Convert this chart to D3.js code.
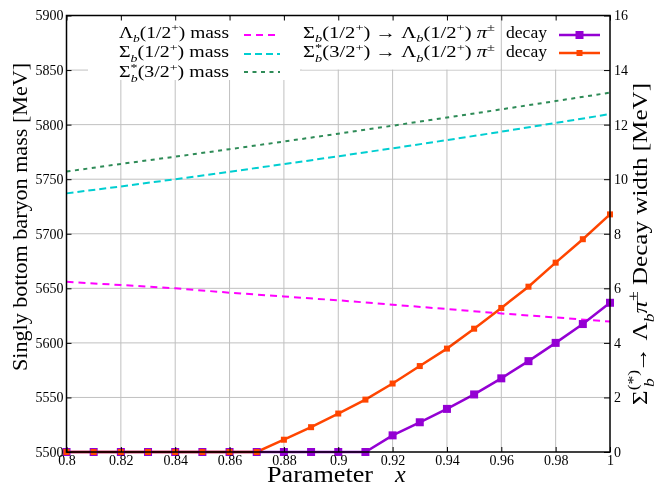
<!DOCTYPE html>
<html><head><meta charset="utf-8">
<script src="https://cdn.jsdelivr.net/npm/d3@7"></script>
<style>
html,body{margin:0;padding:0;background:#fff;}
svg{display:block;font-family:"Liberation Serif","Times New Roman",serif;}
</style></head>
<body><svg id="c" width="657" height="487"></svg>
<script>
// ---------- data ----------
const xParam = [0.80,0.81,0.82,0.83,0.84,0.85,0.86,0.87,0.88,0.89,0.90,0.91,0.92,0.93,0.94,0.95,0.96,0.97,0.98,0.99,1.00];
const sigmaDecay = [0,0,0,0,0,0,0,0,0,0,0,0,0.61,1.09,1.58,2.11,2.70,3.33,4.00,4.69,5.47];
const sigmaStarDecay = [0,0,0,0,0,0,0,0,0.45,0.91,1.41,1.92,2.51,3.15,3.79,4.52,5.28,6.06,6.94,7.80,8.71];
const xMass = [0.80,0.82,0.84,0.86,0.88,0.90,0.92,0.94,0.96,0.98,1.00];
const lambdaMass = [5656,5653,5650,5646,5642.5,5639,5635,5631,5627,5623.3,5619.5];
const sigmaMass = [5737,5743.3,5750,5756.8,5763.8,5771,5778.3,5785.8,5793.5,5801.5,5809.7];
const sigmaStarMass = [5757,5764,5770.6,5777.5,5784.5,5791.7,5799,5806.5,5814,5821.6,5829.3];
const xTicks = [0.80,0.82,0.84,0.86,0.88,0.90,0.92,0.94,0.96,0.98,1.00];
const yLeftTicks = [5500,5550,5600,5650,5700,5750,5800,5850,5900];
const yRightTicks = [0,2,4,6,8,10,12,14,16];

const C = {purple:"#9400d3", orange:"#ff4500", magenta:"#ff00ff", cyan:"#00ced1", green:"#2e8b57", grid:"#c0c0c0"};

const svg = d3.select("#c");
const L = 66.5, R = 610, T = 15.5, B = 452;
const x = d3.scaleLinear([0.8,1],[L,R]);
const yL = d3.scaleLinear([5500,5900],[B,T]);
const yR = d3.scaleLinear([0,16],[B,T]);

// grid
const grid = svg.append("g").attr("stroke",C.grid).attr("stroke-width",1);
grid.selectAll("line.v").data(xTicks.slice(1,-1)).join("line")
  .attr("x1",d=>x(d)).attr("x2",d=>x(d)).attr("y1",T).attr("y2",B);
grid.selectAll("line.h").data(yLeftTicks.slice(1,-1)).join("line")
  .attr("x1",L).attr("x2",R).attr("y1",d=>yL(d)).attr("y2",d=>yL(d));

// legend boxes (opaque)
svg.append("rect").attr("x",88).attr("y",T+1).attr("width",212).attr("height",80-T-1).attr("fill","#fff");
svg.append("rect").attr("x",302).attr("y",T+1).attr("width",R-302-1).attr("height",69.5-T-1).attr("fill","#fff");
svg.append("line").attr("x1",x(0.96)).attr("x2",x(0.96)).attr("y1",T).attr("y2",70).attr("stroke",C.grid);

// mass curves
function massLine(vals,color,dash){
  const pts = xMass.map((d,i)=>[d,vals[i]]);
  svg.append("path").datum(pts)
    .attr("d",d3.line().x(d=>x(d[0])).y(d=>yL(d[1])))
    .attr("fill","none").attr("stroke",color).attr("stroke-width",2).attr("stroke-dasharray",dash);
}
massLine(lambdaMass,C.magenta,"7,5");
massLine(sigmaMass,C.cyan,"7,4");
massLine(sigmaStarMass,C.green,"4,4.5");

// decay curves
function decay(vals,color){
  const pts = xParam.map((d,i)=>[d,vals[i]]);
  svg.append("path").datum(pts)
    .attr("d",d3.line().x(d=>x(d[0])).y(d=>yR(d[1])))
    .attr("fill","none").attr("stroke",color).attr("stroke-width",2.5)
    .style("mix-blend-mode","multiply");
  return pts;
}
const p1 = decay(sigmaDecay,C.purple);
const p2 = decay(sigmaStarDecay,C.orange);
svg.append("g").selectAll("rect").data(p1).join("rect")
  .attr("x",d=>x(d[0])-4).attr("y",d=>yR(d[1])-4).attr("width",8).attr("height",8).attr("fill",C.purple);
svg.append("g").selectAll("rect").data(p2).join("rect")
  .attr("x",d=>x(d[0])-3).attr("y",d=>yR(d[1])-3).attr("width",6).attr("height",6).attr("fill",C.orange);

// border
svg.append("rect").attr("x",L).attr("y",T).attr("width",R-L).attr("height",B-T)
  .attr("fill","none").attr("stroke","#000").attr("stroke-width",1.5);

// axes (inward ticks)
const fmtX = d=>String(+d.toFixed(2));
const ax = g=>{g.select(".domain").remove(); g.selectAll("text").attr("font-family","Liberation Serif").attr("font-size",14).attr("fill","#000");};
svg.append("g").attr("transform",`translate(0,${B})`)
  .call(d3.axisBottom(x).tickValues(xTicks).tickFormat(fmtX).tickSizeInner(-5)).call(ax)
  .selectAll("text").attr("dy","0.71em").attr("y",3);
svg.append("g").attr("transform",`translate(0,${T})`)
  .call(d3.axisTop(x).tickValues(xTicks).tickFormat("").tickSizeInner(-5)).call(ax);
svg.append("g").attr("transform",`translate(${L},0)`)
  .call(d3.axisLeft(yL).tickValues(yLeftTicks).tickFormat(d3.format("d")).tickSizeInner(-5)).call(ax)
  .selectAll("text").attr("x",-3);
svg.append("g").attr("transform",`translate(${R},0)`)
  .call(d3.axisRight(yR).tickValues(yRightTicks).tickFormat(d3.format("d")).tickSizeInner(-6)).call(ax)
  .selectAll("text").attr("x",4);

// rich text helper
function rich(parent, px, py, parts, size, anchor, len){
  const t = parent.append("text").attr("x",px).attr("y",py).attr("font-size",size)
    .attr("text-anchor",anchor||"start").attr("fill","#000");
  let cur = 0;
  parts.forEach(p=>{
    const shift = p.sub ? size*0.3 : p.sup ? -size*0.4 : 0;
    const ts = t.append("tspan").attr("dy",shift-cur).text(p.t);
    if (p.sub||p.sup) ts.attr("font-size",size*0.7);
    if (p.it) ts.attr("font-style","italic");
    if (p.dx) ts.attr("dx",p.dx);
    cur = shift;
  });
  if (len) t.attr("textLength",len).attr("lengthAdjust","spacingAndGlyphs");
  return t;
}

// legend left
const leg = svg.append("g");
const massRows = [
  {parts:[{t:"Λ"},{t:"b",sub:1,it:1},{t:"(1/2"},{t:"+",sup:1},{t:")  mass"}], color:C.magenta, dash:"7,5"},
  {parts:[{t:"Σ"},{t:"b",sub:1,it:1},{t:"(1/2"},{t:"+",sup:1},{t:")  mass"}], color:C.cyan, dash:"7,4"},
  {parts:[{t:"Σ"},{t:"*",sup:1},{t:"b",sub:1,it:1,dx:-5.5},{t:"(3/2"},{t:"+",sup:1},{t:")  mass"}], color:C.green, dash:"4,4.5"}
];
const rowB = [37.5,57.2,77];
const rowL = [35,54,72];
massRows.forEach((r,i)=>{
  rich(leg,229,rowB[i],r.parts,16,"end",110);
  leg.append("line").attr("x1",244).attr("x2",280).attr("y1",rowL[i]).attr("y2",rowL[i])
    .attr("stroke",r.color).attr("stroke-width",2).attr("stroke-dasharray",r.dash);
});
// legend right
const decayRows = [
  {parts:[{t:"Σ"},{t:"b",sub:1,it:1},{t:"(1/2"},{t:"+",sup:1},{t:") → Λ"},{t:"b",sub:1,it:1},{t:"(1/2"},{t:"+",sup:1},{t:")  "},{t:"π",it:1},{t:"±",sup:1}], color:C.purple, ms:8},
  {parts:[{t:"Σ"},{t:"*",sup:1},{t:"b",sub:1,it:1,dx:-5.5},{t:"(3/2"},{t:"+",sup:1},{t:") → Λ"},{t:"b",sub:1,it:1},{t:"(1/2"},{t:"+",sup:1},{t:")  "},{t:"π",it:1},{t:"±",sup:1}], color:C.orange, ms:6}
];
const rowLR = [35,53];
decayRows.forEach((r,i)=>{
  rich(leg,303,rowB[i],r.parts,16,"start",192);
  rich(leg,506,rowB[i],[{t:"decay"}],16,"start",41);
  leg.append("line").attr("x1",559).attr("x2",600).attr("y1",rowLR[i]).attr("y2",rowLR[i])
    .attr("stroke",r.color).attr("stroke-width",2.5);
  leg.append("rect").attr("x",579.5-r.ms/2).attr("y",rowLR[i]-r.ms/2).attr("width",r.ms).attr("height",r.ms).attr("fill",r.color);
});

// axis titles
rich(svg,267,482,[{t:"Parameter"}],24,"start",106);
rich(svg,395,482,[{t:"x",it:1}],24,"start");
const lt = svg.append("g").attr("transform","translate(27,217) rotate(-90)");
rich(lt,0,0,[{t:"Singly bottom baryon mass [MeV]"}],22,"middle",308);
const rt = svg.append("g").attr("transform","translate(647,244) rotate(-90)");
rich(rt,0,0,[{t:"Σ"},{t:"(*)",sup:1},{t:"b",sub:1,it:1,dx:-15},{t:" → Λ"},{t:"b",sub:1,it:1},{t:"π",it:1},{t:"±",sup:1},{t:" Decay width [MeV]"}],22,"middle",322);
</script></body></html>
